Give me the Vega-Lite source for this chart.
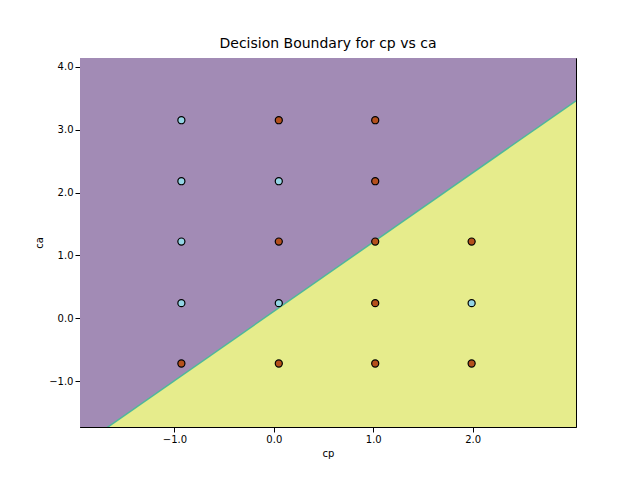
{
"$schema":"https://vega.github.io/schema/vega-lite/v6.json",
"width":496,"height":369,
"autosize":{"type":"none"},
"padding":{"left":80,"top":58,"right":64,"bottom":53},
"title":{"text":"Decision Boundary for cp vs ca","font":"DejaVu Sans","fontSize":14,"fontWeight":"normal","color":"#000","offset":7},
"config":{"view":{"stroke":"#000"},"axis":{"labelFont":"DejaVu Sans","titleFont":"DejaVu Sans","labelFontSize":10,"titleFontSize":10,"titleFontWeight":"normal","grid":false,"domainColor":"#000","tickColor":"#000","labelColor":"#000","titleColor":"#000"}},
"layer":[
{"data":{"values":[{"x":-1.95,"x2":3.04,"y":-1.73,"y2":4.14}]},
 "mark":{"type":"rect","color":"#a28bb5"},
 "encoding":{"x":{"field":"x","type":"quantitative","scale":{"domain":[-1.95,3.04],"nice":false,"zero":false},"axis":{"values":[-1,0,1,2],"title":"cp"}},"x2":{"field":"x2"},
  "y":{"field":"y","type":"quantitative","scale":{"domain":[-1.73,4.14],"nice":false,"zero":false},"axis":{"values":[-1,0,1,2,3,4],"title":"ca"}},"y2":{"field":"y2"}}},
{"data":{"values":[{"x":-1.95,"y":-2.04,"b":-1.73},{"x":3.04,"y":3.46,"b":-1.73}]},
 "mark":{"type":"area","color":"#e6ec8c","clip":true,"opacity":1},
 "encoding":{"x":{"field":"x","type":"quantitative"},"y":{"field":"y","type":"quantitative"},"y2":{"field":"b"}}},
{"data":{"values":[{"x":-1.95,"y":-2.04},{"x":3.04,"y":3.46}]},
 "mark":{"type":"line","color":"#4fb89a","strokeWidth":1.5,"clip":true},
 "encoding":{"x":{"field":"x","type":"quantitative"},"y":{"field":"y","type":"quantitative"}}},
{"data":{"values":[
 {"cp":-0.93,"ca":3.15,"c":"0"},{"cp":-0.93,"ca":2.18,"c":"0"},{"cp":-0.93,"ca":1.22,"c":"0"},{"cp":-0.93,"ca":0.24,"c":"0"},{"cp":-0.93,"ca":-0.72,"c":"1"},
 {"cp":0.05,"ca":3.15,"c":"1"},{"cp":0.05,"ca":2.18,"c":"0"},{"cp":0.05,"ca":1.22,"c":"1"},{"cp":0.05,"ca":0.24,"c":"0"},{"cp":0.05,"ca":-0.72,"c":"1"},
 {"cp":1.02,"ca":3.15,"c":"1"},{"cp":1.02,"ca":2.18,"c":"1"},{"cp":1.02,"ca":1.22,"c":"1"},{"cp":1.02,"ca":0.24,"c":"1"},{"cp":1.02,"ca":-0.72,"c":"1"},
 {"cp":1.99,"ca":1.22,"c":"1"},{"cp":1.99,"ca":0.24,"c":"0"},{"cp":1.99,"ca":-0.72,"c":"1"}]},
 "mark":{"type":"point","filled":true,"size":50,"stroke":"#000","strokeWidth":1.2,"opacity":1},
 "encoding":{"x":{"field":"cp","type":"quantitative"},"y":{"field":"ca","type":"quantitative"},
  "fill":{"field":"c","type":"nominal","scale":{"domain":["0","1"],"range":["#94d4e4","#b4501c"]},"legend":null}}}
]}
